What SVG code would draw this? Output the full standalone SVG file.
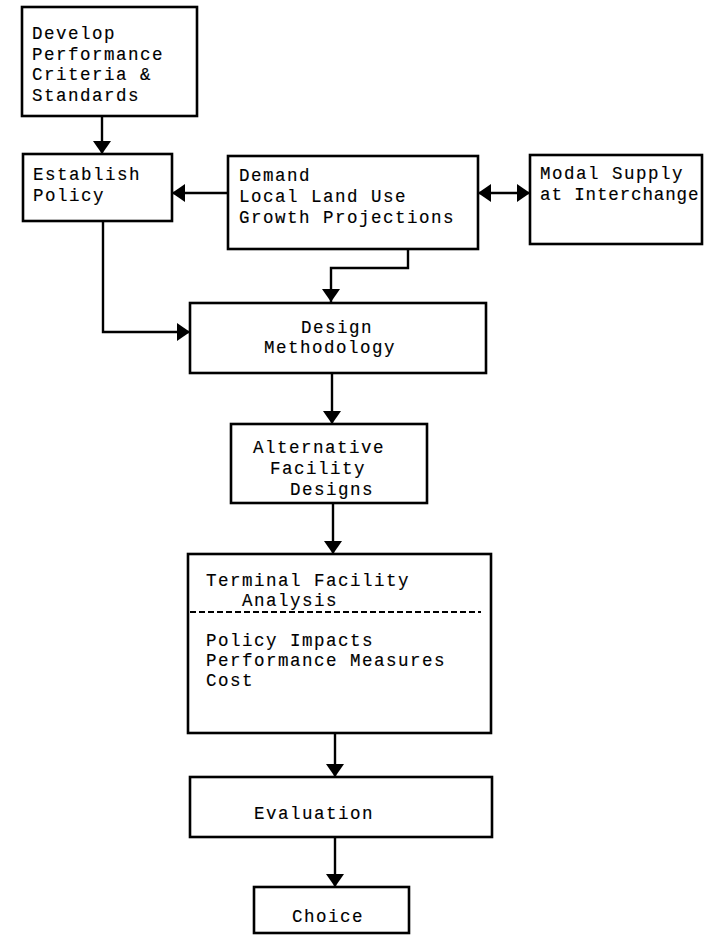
<svg xmlns="http://www.w3.org/2000/svg" width="709" height="940" viewBox="0 0 709 940">
  <defs>
    <marker id="head" viewBox="0 0 13 18" refX="13" refY="9" markerWidth="13" markerHeight="18" markerUnits="userSpaceOnUse" orient="auto-start-reverse">
      <path d="M0,0 L13,9 L0,18 Z" fill="#000"/>
    </marker>
  </defs>
  <style>
    .box { fill: #fff; stroke: #000; stroke-width: 2.6; }
    .lbl { font-family: "Liberation Mono", "DejaVu Sans Mono", monospace; font-size: 17.5px; letter-spacing: 1.5px; fill: #000; stroke: #000; stroke-width: 0.15; }
    .wire { fill: none; stroke: #000; stroke-width: 2.4; }
    .arrow { marker-end: url(#head); }
    .both { marker-start: url(#head); marker-end: url(#head); }
    .split { stroke: #000; stroke-width: 2; stroke-dasharray: 6 3; }
  </style>
  <rect width="709" height="940" fill="#fff"/>

  <g id="connectors">
    <path class="wire arrow" d="M102,116 V154"/>
    <path class="wire arrow" d="M228,193 H172"/>
    <path class="wire both" d="M478,193 H530"/>
    <path class="wire arrow" d="M103,221 V332 H190"/>
    <path class="wire arrow" d="M408,249 V268 H331 V302"/>
    <path class="wire arrow" d="M332,373 V424"/>
    <path class="wire arrow" d="M333,503 V554"/>
    <path class="wire arrow" d="M335,733 V777"/>
    <path class="wire arrow" d="M335,837 V887"/>
  </g>

  <g id="develop">
    <rect class="box" x="22" y="7" width="175" height="109"/>
    <text class="lbl" x="32" y="39">Develop</text>
    <text class="lbl" x="32" y="59.5">Performance</text>
    <text class="lbl" x="32" y="80">Criteria &amp;</text>
    <text class="lbl" x="32" y="100.5">Standards</text>
  </g>

  <g id="establish">
    <rect class="box" x="23" y="154" width="149" height="67"/>
    <text class="lbl" x="33" y="180">Establish</text>
    <text class="lbl" x="33" y="201">Policy</text>
  </g>

  <g id="demand">
    <rect class="box" x="228" y="156" width="250" height="93"/>
    <text class="lbl" x="239" y="181">Demand</text>
    <text class="lbl" x="239" y="202">Local Land Use</text>
    <text class="lbl" x="239" y="223">Growth Projections</text>
  </g>

  <g id="modal">
    <rect class="box" x="530" y="155" width="172" height="89"/>
    <text class="lbl" x="540" y="179">Modal Supply</text>
    <text class="lbl" x="540" y="200" textLength="160" lengthAdjust="spacing">at Interchange</text>
  </g>

  <g id="design">
    <rect class="box" x="190" y="303" width="296" height="70"/>
    <text class="lbl" x="301" y="333">Design</text>
    <text class="lbl" x="264" y="353">Methodology</text>
  </g>

  <g id="alternatives">
    <rect class="box" x="231" y="424" width="196" height="79"/>
    <text class="lbl" x="253" y="453">Alternative</text>
    <text class="lbl" x="270" y="474">Facility</text>
    <text class="lbl" x="290" y="495">Designs</text>
  </g>

  <g id="analysis">
    <rect class="box" x="188" y="554" width="303" height="179"/>
    <text class="lbl" x="206" y="586">Terminal Facility</text>
    <text class="lbl" x="242" y="606">Analysis</text>
    <line class="split" x1="190" y1="612" x2="481" y2="612"/>
    <text class="lbl" x="206" y="646">Policy Impacts</text>
    <text class="lbl" x="206" y="666">Performance Measures</text>
    <text class="lbl" x="206" y="686">Cost</text>
  </g>

  <g id="evaluation">
    <rect class="box" x="190" y="777" width="302" height="60"/>
    <text class="lbl" x="254" y="819">Evaluation</text>
  </g>

  <g id="choice">
    <rect class="box" x="254" y="887" width="155" height="46"/>
    <text class="lbl" x="292" y="922">Choice</text>
  </g>
</svg>
